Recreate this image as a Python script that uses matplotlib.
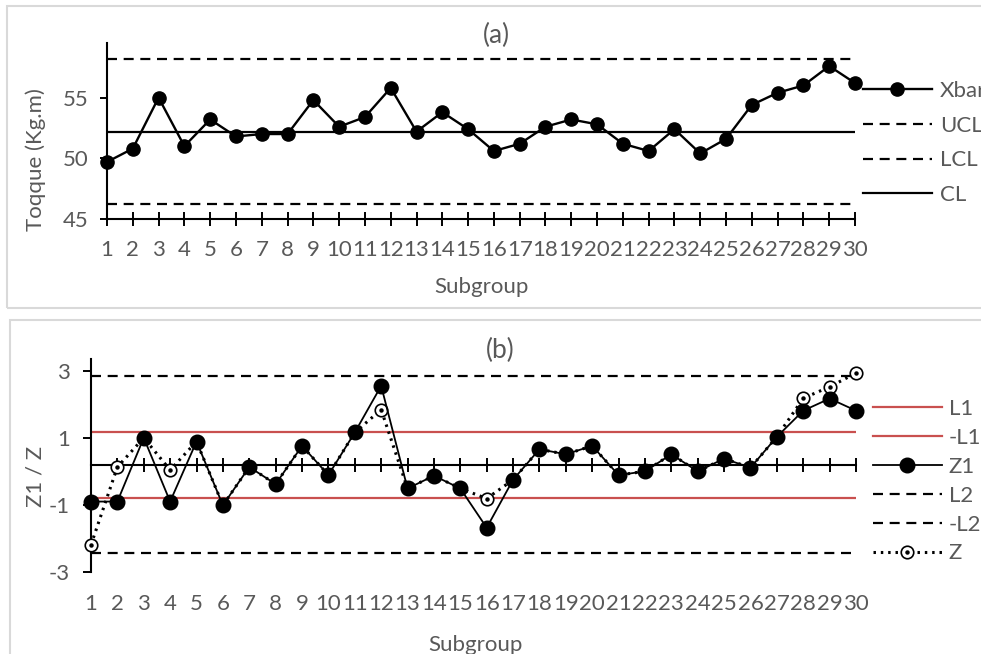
import matplotlib
matplotlib.use('Agg')
import matplotlib.pyplot as plt
import numpy as np
from matplotlib.patches import Rectangle

plt.rcParams['font.family'] = ['Lato', 'DejaVu Sans']
plt.rcParams['axes.unicode_minus'] = False

# data
subgroup = np.arange(1, 31)
xbar = [49.7, 50.8, 55.0, 51.0, 53.2, 51.8, 52.0, 52.0, 54.8, 52.6,
        53.4, 55.8, 52.2, 53.8, 52.4, 50.6, 51.2, 52.6, 53.2, 52.8,
        51.2, 50.6, 52.4, 50.4, 51.6, 54.4, 55.4, 56.0, 57.6, 56.2]
ucl, lcl, cl = 58.2, 46.2, 52.2

z1 = [-0.9, -0.9, 1.0, -0.9, 0.89, -1.01, 0.13, -0.38, 0.76, -0.11,
      1.16, 2.55, -0.51, -0.13, -0.51, -1.68, -0.25, 0.66, 0.51, 0.76,
      -0.11, 0.0, 0.51, 0.0, 0.38, 0.11, 1.03, 1.81, 2.17, 1.81]
z = [-2.19, 0.13, 1.0, 0.04, 0.89, -1.01, 0.13, -0.38, 0.76, -0.11,
     1.16, 1.84, -0.51, -0.13, -0.51, -0.81, -0.25, 0.66, 0.51, 0.76,
     -0.11, 0.0, 0.51, 0.0, 0.38, 0.11, 1.03, 2.18, 2.52, 2.93]
l1, neg_l1 = 1.16, -0.78
l2, neg_l2 = 2.83, -2.44
z_axis_cross = 0.19

W, H = 981, 654
gray = '#595959'
red = '#C9504F'
fs = 16


def rect(x0, y0, x1, y1):
    return [x0 / W, 1 - y1 / H, (x1 - x0) / W, (y1 - y0) / H]


fig = plt.figure(figsize=(W / 100, H / 100), dpi=100)

# chart area borders
for x0, y0, x1, y1 in [(7, 6, 995, 308), (10, 320, 995, 665)]:
    fig.patches.append(Rectangle((x0 / W, 1 - y1 / H), (x1 - x0) / W, (y1 - y0) / H,
                                 transform=fig.transFigure, fill=False,
                                 ec='#d9d9d9', lw=1.5))

dash = (0, (4.5, 3))

# ---- (a) ----
ax1 = fig.add_axes(rect(107, 43, 855, 219))
ax1.plot(subgroup, xbar, '-o', color='k', lw=1.7, ms=9.5, clip_on=False, zorder=5, label='Xbar')
ax1.plot(subgroup, np.full(30, ucl), color='k', lw=1.6, ls=dash, label='UCL')
ax1.plot(subgroup, np.full(30, lcl), color='k', lw=1.6, ls=dash, label='LCL')
ax1.plot(subgroup, np.full(30, cl), color='k', lw=1.6, label='CL')
ax1.set_xlim(1, 30)
ax1.set_ylim(45, 59.5)
ax1.set_xticks(subgroup)
ax1.set_yticks([45, 50, 55])
for s in ['top', 'right']:
    ax1.spines[s].set_visible(False)
for s in ['left', 'bottom']:
    ax1.spines[s].set_linewidth(1.5)
ax1.tick_params(axis='x', direction='inout', length=10, width=1.4, pad=10,
                labelsize=fs, labelcolor=gray)
ax1.tick_params(axis='y', direction='out', length=5, width=1.4, pad=8,
                labelsize=fs, labelcolor=gray)
ax1.set_xlabel('Subgroup', fontsize=fs, color=gray)
ax1.xaxis.set_label_coords(0.5, -0.33)
ax1.set_ylabel('Toqque (Kg.m)', fontsize=fs, color=gray)
ax1.yaxis.set_label_coords(-0.082, 0.34)
ax1.text(0.521, 1.045, '(a)', transform=ax1.transAxes, ha='center', va='center',
         fontsize=19, color=gray)
ax1.legend(loc='upper left', bbox_to_anchor=(863 / W, 1 - 81 / H),
           bbox_transform=fig.transFigure, frameon=False, fontsize=fs,
           labelcolor=gray, handlelength=3.1, handletextpad=0.35,
           labelspacing=0.66, borderpad=0, borderaxespad=0)

# ---- (b) ----
ax2 = fig.add_axes(rect(91, 359, 856, 572))
ymin, ymax = -3, 3.35
h_l1, = ax2.plot(subgroup, np.full(30, l1), color=red, lw=1.6)
h_nl1, = ax2.plot(subgroup, np.full(30, neg_l1), color=red, lw=1.6)
h_l2, = ax2.plot(subgroup, np.full(30, l2), color='k', lw=1.6, ls=dash)
h_nl2, = ax2.plot(subgroup, np.full(30, neg_l2), color='k', lw=1.6, ls=dash)
h_z, = ax2.plot(subgroup, z, color='k', lw=2.2, ls=(0, (0.8, 1.6)), marker='o',
                ms=9, mfc='white', mec='k', mew=1.2, clip_on=False, zorder=4)
h_zd, = ax2.plot(subgroup, z, ls='none', marker='o', ms=2.2, color='k',
                 clip_on=False, zorder=4)
h_z1, = ax2.plot(subgroup, z1, '-o', color='k', lw=1.3, ms=10.5, clip_on=False, zorder=5)
ax2.set_xlim(1, 30)
ax2.set_ylim(ymin, ymax)
ax2.set_xticks(subgroup)
ax2.set_yticks([-3, -1, 1, 3])
for s in ['top', 'right', 'bottom']:
    ax2.spines[s].set_visible(False)
ax2.spines['left'].set_linewidth(1.5)
ax2.tick_params(axis='x', length=0, pad=16, labelsize=fs, labelcolor=gray)
ax2.tick_params(axis='y', direction='out', length=6, width=1.4, pad=9,
                labelsize=fs, labelcolor=gray)
sec = ax2.secondary_xaxis((z_axis_cross - ymin) / (ymax - ymin))
sec.set_xticks(subgroup, labels=[])
sec.tick_params(direction='inout', length=10, width=1.4)
for s in sec.spines.values():
    s.set_linewidth(1.5)
ax2.set_xlabel('Subgroup', fontsize=fs, color=gray)
ax2.xaxis.set_label_coords(0.502, -0.295)
ax2.set_ylabel('Z1 / Z', fontsize=fs, color=gray)
ax2.yaxis.set_label_coords(-0.06, 0.45)
ax2.text(0.535, 1.042, '(b)', transform=ax2.transAxes, ha='center', va='center',
         fontsize=19, color=gray)
ax2.legend([h_l1, h_nl1, h_z1, h_l2, h_nl2, (h_z, h_zd)],
           ['L1', '-L1', 'Z1', 'L2', '-L2', 'Z'],
           loc='upper left', bbox_to_anchor=(873 / W, 1 - 399 / H),
           bbox_transform=fig.transFigure, frameon=False, fontsize=fs,
           labelcolor=gray, handlelength=3.1, handletextpad=0.3,
           labelspacing=0.4, borderpad=0, borderaxespad=0)

fig.savefig('out.png', dpi=100)
